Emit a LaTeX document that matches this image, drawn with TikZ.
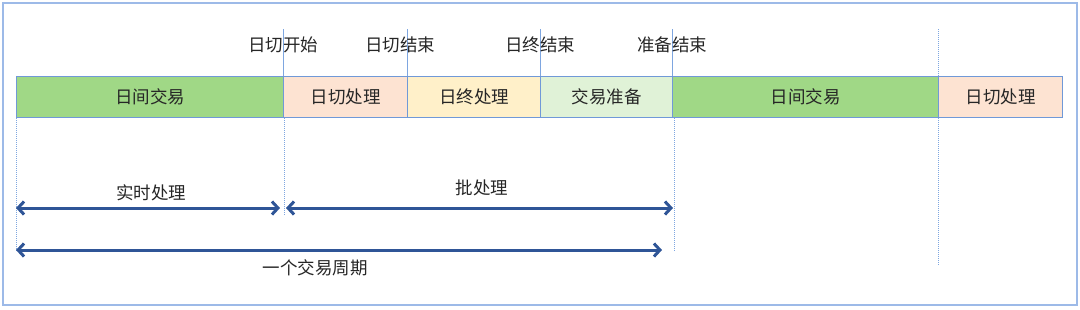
\documentclass[tikz,border=0pt]{standalone}
\usepackage{fontspec}
\setmainfont{Noto Sans CJK SC}
\usetikzlibrary{arrows.meta}
\definecolor{framec}{HTML}{9DBAE8}
\definecolor{edgec}{HTML}{7099D8}
\definecolor{tickc}{HTML}{7EA6E0}
\definecolor{daygreen}{HTML}{A0D886}
\definecolor{cutpeach}{HTML}{FDE3D2}
\definecolor{endyellow}{HTML}{FFF0C9}
\definecolor{preplight}{HTML}{E0F2D7}
\definecolor{arrowc}{HTML}{2F5597}
\definecolor{txtc}{HTML}{262626}
\tikzset{
  seg/.style={draw=edgec, line width=1pt, anchor=north west, minimum height=41pt,
    inner sep=0pt, text=txtc, font=\fontsize{17.5}{20}\selectfont},
  lbl/.style={text=txtc, inner sep=0pt, font=\fontsize{17.5}{20}\selectfont},
  tickline/.style={draw=tickc, line width=1pt},
  dotline/.style={draw=tickc, line width=0.9pt, dash pattern=on 1pt off 1pt},
  dimarrow/.style={draw=arrowc, line width=3pt,
    arrows={Straight Barb[length=6pt,width=13pt]-Straight Barb[length=6pt,width=13pt]}}
}
\begin{document}
\begin{tikzpicture}[x=1pt,y=-1pt]
\useasboundingbox (0,0) rectangle (1080,309);
\draw[framec, line width=1.6pt] (3,3) rectangle (1077,305);

% bar segments
\node[seg, fill=daygreen, minimum width=267pt] (s1) at (16,76) {日间交易};
\node[seg, fill=cutpeach, minimum width=124pt] (s2) at (283,76) {日切处理};
\node[seg, fill=endyellow, minimum width=133pt] (s3) at (407,76) {日终处理};
\node[seg, fill=preplight, minimum width=132pt] (s4) at (540,76) {交易准备};
\node[seg, fill=daygreen, minimum width=266pt] (s5) at (672,76) {日间交易};
\node[seg, fill=cutpeach, minimum width=124pt] (s6) at (938,76) {日切处理};

% top ticks
\draw[tickline] (s2.north west) -- ++(0,-47);
\draw[tickline] (s3.north west) -- ++(0,-47);
\draw[tickline] (s4.north west) -- ++(0,-47);
\draw[tickline] (s5.north west) -- ++(0,-47);
\draw[dotline] (s6.north west) -- ++(0,-48);

% top labels
\node[lbl] (t1) at (283,45) {日切开始};
\node[lbl] (t2) at (400,45) {日切结束};
\node[lbl] (t3) at (540,45) {日终结束};
\node[lbl] (t4) at (672,45) {准备结束};

% dotted guides below
\draw[dotline] ([xshift=0.5pt]s1.south west) -- ++(0,134);
\draw[dotline] ([xshift=1pt]s2.south west) -- ++(0,98);
\draw[dotline] ([xshift=2pt]s5.south west) -- ++(0,134);
\draw[dotline] (s6.south west) -- ++(0,148);

% dimension arrows
\coordinate (a1) at (16,208);
\coordinate (a2) at (280,208);
\coordinate (b1) at (286,208);
\coordinate (b2) at (673,208);
\coordinate (c1) at (16,250);
\coordinate (c2) at (662,250);
\draw[dimarrow] (a1) -- (a2);
\draw[dimarrow] (b1) -- (b2);
\draw[dimarrow] (c1) -- (c2);

\node[lbl] (l1) at (151,193) {实时处理};
\node[lbl] (l2) at (482,188) {批处理};
\node[lbl] (l3) at (315,268) {一个交易周期};
\end{tikzpicture}
\end{document}
